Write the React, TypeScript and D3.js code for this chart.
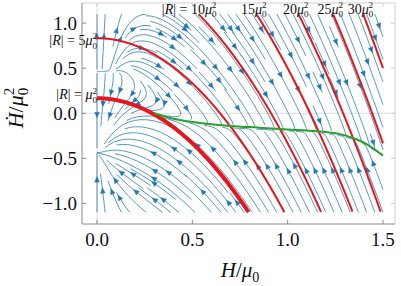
import React, { useEffect, useRef } from 'react';
import * as d3 from 'd3';

// |R| levels of the red constant-curvature curves (units of mu0^2)
const rLevels = [1, 5, 10, 15, 20, 25, 30];

// green attractor (H/mu0, Hdot/mu0^2)
const greenH = [0.3, 0.4, 0.55, 0.7, 0.85, 1.0, 1.15, 1.27, 1.35, 1.42, 1.5];
const greenY = [0.0, -0.06, -0.11, -0.14, -0.16, -0.18, -0.2, -0.23, -0.28, -0.35, -0.47];

// curve where the horizontal flow turns round
const turnH = [0, 0.1, 0.2, 0.3, 0.4, 0.55, 0.7, 0.85, 1.0, 1.15, 1.27, 1.35, 1.42, 1.5];
const turnY = [0.46, 0.4, 0.3, 0.16, 0.03, -0.1, -0.14, -0.16, -0.18, -0.2, -0.23, -0.28, -0.35, -0.47];

// points on the H = 0 axis where the streamlines meet
const axisPoints = [0.46, -0.44];

const xTicks = [0, 0.5, 1, 1.5];
const yTicks = [-1, -0.5, 0, 0.5, 1];

const W = 401;
const H = 286;
const SERIF = "'Liberation Serif', 'DejaVu Serif', serif";

// field domain
const H0 = 0, H1 = 1.5, Y0 = -1.1, Y1 = 1.1;

const turn = d3.scaleLinear().domain(turnH).range(turnY).clamp(true);

function field(h: number, yy: number): [number, number] {
  const u = h * (yy - turn(h));
  const s = 1.5 * (yy - axisPoints[0]) * (yy - axisPoints[1]) * Math.exp(-h / 0.15);
  const v = -4 * h * u + s - 0.05 * h;
  return [u, v];
}

// port of matplotlib's streamplot (one arrow per line)
function streamlines(density: number) {
  const nm = Math.round(30 * density);
  const mask = new Uint8Array(nm * nm);
  const maxds = Math.min(1 / nm, 0.1);
  const maxerr = 0.003;
  const maxlen = 4;
  const minlen = 0.1;
  let traj: number[] = [];
  let cur = -1;

  const dir = (ax: number, ay: number, sign: number) => {
    const [u, v] = field(H0 + ax * (H1 - H0), Y0 + ay * (Y1 - Y0));
    const ua = u / (H1 - H0), va = v / (Y1 - Y0);
    const sp = Math.hypot(ua, va);
    if (!(sp > 1e-12)) return null;
    return [(sign * ua) / sp, (sign * va) / sp];
  };
  const cell = (ax: number, ay: number) =>
    Math.round(ay * (nm - 1)) * nm + Math.round(ax * (nm - 1));
  const visit = (ax: number, ay: number) => {
    const id = cell(ax, ay);
    if (id !== cur) {
      if (mask[id]) return false;
      mask[id] = 1;
      traj.push(id);
      cur = id;
    }
    return true;
  };
  const inside = (ax: number, ay: number) => ax >= 0 && ax <= 1 && ay >= 0 && ay <= 1;

  const run = (x0: number, y0: number, sign: number) => {
    let xx = x0, yy = y0, ds = maxds, total = 0;
    const pts: [number, number][] = [[xx, yy]];
    for (let it = 0; it < 6000; it++) {
      const k1 = dir(xx, yy, sign);
      if (!k1) break;
      const xt = xx + ds * k1[0], yt = yy + ds * k1[1];
      if (!inside(xt, yt)) {
        // euler step up to the edge
        let f = 1;
        if (xt < 0) f = Math.min(f, xx / (xx - xt));
        if (xt > 1) f = Math.min(f, (1 - xx) / (xt - xx));
        if (yt < 0) f = Math.min(f, yy / (yy - yt));
        if (yt > 1) f = Math.min(f, (1 - yy) / (yt - yy));
        pts.push([xx + f * ds * k1[0], yy + f * ds * k1[1]]);
        total += f * ds;
        break;
      }
      const k2 = dir(xt, yt, sign);
      if (!k2) break;
      const dx1 = ds * k1[0], dy1 = ds * k1[1];
      const dx2 = ds * 0.5 * (k1[0] + k2[0]), dy2 = ds * 0.5 * (k1[1] + k2[1]);
      const err = Math.hypot(dx2 - dx1, dy2 - dy1);
      if (err < maxerr) {
        xx += dx2;
        yy += dy2;
        total += ds;
        pts.push([xx, yy]);
        if (!inside(xx, yy) || !visit(xx, yy)) break;
        if (total > maxlen) break;
      }
      ds = err === 0 ? maxds : Math.min(maxds, 0.85 * ds * Math.sqrt(maxerr / err));
      if (ds < 1e-6) break;
    }
    return { pts, total };
  };

  // spiral seeding from the border inwards
  const seeds: [number, number][] = [];
  {
    let xf = 0, yf = 1, xl = nm - 1, yl = nm - 1, sx = 0, sy = 0;
    let d = 'right';
    for (let i = 0; i < nm * nm; i++) {
      seeds.push([sx, sy]);
      if (d === 'right') { sx++; if (sx >= xl) { xl--; d = 'up'; } }
      else if (d === 'up') { sy++; if (sy >= yl) { yl--; d = 'left'; } }
      else if (d === 'left') { sx--; if (sx <= xf) { xf++; d = 'down'; } }
      else { sy--; if (sy <= yf) { yf++; d = 'right'; } }
    }
  }

  const lines: [number, number][][] = [];
  for (const [mx, my] of seeds) {
    if (mask[my * nm + mx]) continue;
    const ax = mx / (nm - 1), ay = my / (nm - 1);
    traj = [];
    cur = -1;
    visit(ax, ay);
    const seedCell = cur;
    const back = run(ax, ay, -1);
    cur = seedCell;
    const fwd = run(ax, ay, 1);
    if (back.total + fwd.total > minlen) {
      const pts = back.pts.slice().reverse().concat(fwd.pts.slice(1));
      lines.push(pts.map(([a, b]) => [H0 + a * (H1 - H0), Y0 + b * (Y1 - Y0)]));
    } else {
      for (const id of traj) mask[id] = 0;
    }
  }
  return lines;
}

export default function App() {
  const ref = useRef<SVGSVGElement>(null);

  useEffect(() => {
    if (!ref.current) return;
    const svg = d3.select(ref.current);
    svg.selectAll('*').remove();

    const x = d3.scaleLinear().domain([-0.0787, 1.563]).range([82, 395]);
    const y = d3.scaleLinear().domain([-1.229, 1.224]).range([224, 3]);

    // zero lines
    svg.append('line').attr('x1', x(0)).attr('x2', x(0)).attr('y1', y.range()[0]).attr('y2', y.range()[1])
      .attr('stroke', '#d6d6d6').attr('stroke-width', 0.8);
    svg.append('line').attr('x1', x.range()[0]).attr('x2', x.range()[1]).attr('y1', y(0)).attr('y2', y(0))
      .attr('stroke', '#d6d6d6').attr('stroke-width', 0.8);

    // stream plot
    const lines = streamlines(1.2);
    const line = d3.line<[number, number]>().x(d => x(d[0])).y(d => y(d[1]));
    const blue = '#1f77b4';
    const g = svg.append('g');
    lines.forEach(pts => {
      if (pts.length < 2) return;
      g.append('path').attr('d', line(pts)).attr('fill', 'none').attr('stroke', blue)
        .attr('stroke-width', 0.75).attr('stroke-linejoin', 'round');
      // arrow at the midpoint
      const cum = [0];
      for (let i = 1; i < pts.length; i++) {
        cum.push(cum[i - 1] + Math.hypot(pts[i][0] - pts[i - 1][0], pts[i][1] - pts[i - 1][1]));
      }
      const half = cum[cum.length - 1] / 2;
      let n = d3.bisectLeft(cum, half);
      n = Math.min(n, pts.length - 2);
      const tx = x(pts[n][0]), ty = y(pts[n][1]);
      const hx = (x(pts[n][0]) + x(pts[n + 1][0])) / 2, hy = (y(pts[n][1]) + y(pts[n + 1][1])) / 2;
      let dx = hx - tx, dy = hy - ty;
      const len = Math.hypot(dx, dy);
      if (len === 0) return;
      dx /= len; dy /= len;
      const L = 5.5, Wd = 2.4;
      const bx = hx - dx * L, by = hy - dy * L;
      g.append('path')
        .attr('d', `M${hx},${hy}L${bx - dy * Wd},${by + dx * Wd}L${bx + dy * Wd},${by - dx * Wd}Z`)
        .attr('fill', blue).attr('stroke', blue).attr('stroke-width', 0.4);
    });

    // red |R| curves: Hdot = R/6 - 2 H^2
    const red = '#e8161b';
    const hs = d3.range(0, 1.5 + 1e-9, 0.0025);
    rLevels.forEach(R => {
      const pts = hs.map(h => [h, R / 6 - 2 * h * h] as [number, number]).filter(p => p[1] <= Y1 && p[1] >= Y0);
      svg.append('path').attr('d', line(pts)).attr('fill', 'none').attr('stroke', red)
        .attr('stroke-width', R === 1 ? 4 : 2);
    });

    // green attractor
    svg.append('path')
      .attr('d', d3.line<number>().x((_, i) => x(greenH[i])).y((_, i) => y(greenY[i])).curve(d3.curveCatmullRom)(greenH))
      .attr('fill', 'none').attr('stroke', '#2ca02c').attr('stroke-width', 2);

    // frame
    const [xl, xr] = x.range();
    const [yb, yt] = y.range();
    svg.append('line').attr('x1', xl).attr('x2', xr).attr('y1', yt).attr('y2', yt).attr('stroke', '#cfcfcf').attr('stroke-width', 1);
    svg.append('line').attr('x1', xr).attr('x2', xr).attr('y1', yt).attr('y2', yb).attr('stroke', '#cfcfcf').attr('stroke-width', 1);
    svg.append('line').attr('x1', xl).attr('x2', xl).attr('y1', yt).attr('y2', yb).attr('stroke', '#8a8a8a').attr('stroke-width', 1);
    svg.append('line').attr('x1', xl).attr('x2', xr).attr('y1', yb).attr('y2', yb).attr('stroke', '#8a8a8a').attr('stroke-width', 1);

    const fmt = (v: number) => (v < 0 ? '\u2212' : '') + Math.abs(v).toFixed(1);
    xTicks.forEach(t => {
      svg.append('line').attr('x1', x(t)).attr('x2', x(t)).attr('y1', yb).attr('y2', yb - 4).attr('stroke', '#8a8a8a');
      svg.append('line').attr('x1', x(t)).attr('x2', x(t)).attr('y1', yt).attr('y2', yt + 4).attr('stroke', '#cfcfcf');
      svg.append('text').attr('x', x(t)).attr('y', 246).attr('text-anchor', 'middle')
        .attr('font-family', SERIF).attr('font-size', 19).attr('fill', '#111').text(fmt(t));
    });
    yTicks.forEach(t => {
      svg.append('line').attr('x1', xl).attr('x2', xl + 4).attr('y1', y(t)).attr('y2', y(t)).attr('stroke', '#8a8a8a');
      svg.append('line').attr('x1', xr).attr('x2', xr - 4).attr('y1', y(t)).attr('y2', y(t)).attr('stroke', '#cfcfcf');
      svg.append('text').attr('x', 77).attr('y', y(t) + 6.5).attr('text-anchor', 'end')
        .attr('font-family', SERIF).attr('font-size', 19).attr('fill', '#111').text(fmt(t));
    });

    // |R| labels
    const addMu = (t: any, fs: number, num: string) => {
      if (num) t.append('tspan').text(num);
      t.append('tspan').attr('font-style', 'italic').text('\u03bc');
      t.append('tspan').attr('font-size', fs * 0.65).attr('dy', fs * 0.25).text('0');
      t.append('tspan').attr('font-size', fs * 0.65).attr('dx', -fs * 0.33).attr('dy', -fs * 0.66).text('2');
    };
    const addR = (t: any) => {
      t.append('tspan').text('|');
      t.append('tspan').attr('font-style', 'italic').text('R');
      t.append('tspan').text('| = ');
    };
    const fs = 14;
    rLevels.forEach(R => {
      const y0h = R / 6;
      if (y0h <= Y1) {
        const t = svg.append('text').attr('x', x(0)).attr('y', y(y0h) + (R === 1 ? 1 : 7)).attr('text-anchor', 'end')
          .attr('font-family', SERIF).attr('font-size', fs).attr('fill', '#111');
        addR(t);
        addMu(t, fs, R === 1 ? '' : String(R));
      } else {
        const hTop = Math.sqrt((R / 6 - Y1) / 2);
        const t = svg.append('text').attr('x', x(hTop) + (R === 10 ? 18 : 10)).attr('y', y(Y1) - 0.5)
          .attr('text-anchor', 'end').attr('font-family', SERIF).attr('font-size', fs).attr('fill', '#111');
        if (R === 10) addR(t);
        addMu(t, fs, String(R));
      }
    });

    // axis labels
    const xlab = svg.append('text').attr('x', 240).attr('y', 277).attr('text-anchor', 'middle')
      .attr('font-family', SERIF).attr('font-size', 21).attr('fill', '#111');
    xlab.append('tspan').attr('font-style', 'italic').text('H');
    xlab.append('tspan').text('/');
    xlab.append('tspan').attr('font-style', 'italic').text('\u03bc');
    xlab.append('tspan').attr('font-size', 14).attr('dy', 5).text('0');

    const ylab = svg.append('text').attr('transform', 'translate(23,108) rotate(-90)').attr('text-anchor', 'middle')
      .attr('font-family', SERIF).attr('font-size', 22).attr('fill', '#111');
    ylab.append('tspan').attr('font-style', 'italic').text('\u1e22');
    ylab.append('tspan').text('/');
    ylab.append('tspan').attr('font-style', 'italic').text('\u03bc');
    ylab.append('tspan').attr('font-size', 15).attr('dy', 5).text('0');
    ylab.append('tspan').attr('font-size', 15).attr('dx', -7.5).attr('dy', -14).text('2');
  }, []);

  return (
    <svg
      ref={ref}
      width={W}
      height={H}
      style={{ position: 'absolute', left: 0, top: 0, background: '#fff' }}
    />
  );
}
